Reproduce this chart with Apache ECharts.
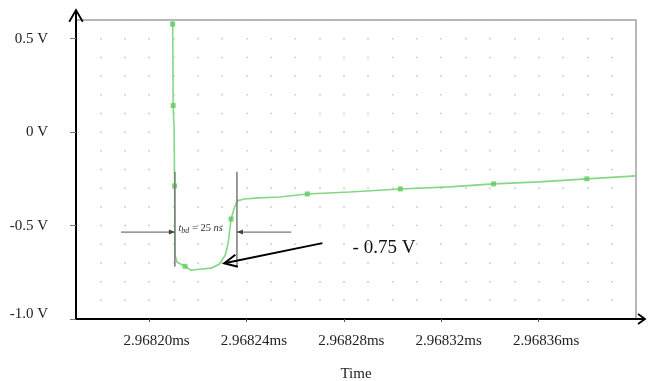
<!DOCTYPE html>
<html><head><meta charset="utf-8">
<script src="https://cdn.jsdelivr.net/npm/echarts@6/dist/echarts.min.js"></script>
<style>html,body{margin:0;padding:0;background:#fff}#c{width:651px;height:381px}</style>
</head><body><div id="c"></div>
<script>
// ---- data ----
const timeMs = [2.9682095, 2.9682097, 2.9682098, 2.9682099, 2.9682103, 2.9682105, 2.9682107, 2.9682115,
  2.9682148, 2.9682173, 2.9682206, 2.9682255, 2.9682288, 2.9682313, 2.9682325, 2.9682337, 2.9682350,
  2.9682362, 2.9682391, 2.9682452, 2.9682535, 2.9682650, 2.9682823, 2.9683032, 2.9683234, 2.9683415,
  2.9683604, 2.9683798, 2.9684000];
const voltage = [0.62, 0.578, 0.39, 0.142, 0.013, -0.288, -0.659, -0.696, -0.718, -0.739, -0.734, -0.728,
  -0.707, -0.659, -0.594, -0.465, -0.406, -0.368, -0.358, -0.352, -0.347, -0.331, -0.320, -0.304, -0.293,
  -0.277, -0.266, -0.250, -0.234];
const markerIndex = [1, 3, 5, 8, 15, 21, 23, 25, 27];
const xTickValues = [2.96820, 2.96824, 2.96828, 2.96832, 2.96836];
const yTickValues = [0.5, 0, -0.5, -1.0];
const yTickLabels = ['0.5 V', '0 V', '-0.5 V', '-1.0 V'];
const xRange = [2.96817, 2.96840];
const yRange = [-1.0, 0.6];
const xDotStep = 0.00001;
const xAxisName = 'Time';

// annotations (data coordinates)
const tbdStart = 2.9682106, tbdEnd = 2.9682361;
const tbdLineSpan = [-0.212, -0.72];
const tbdArrowV = -0.535;
const tbdArrowLeftFrom = 2.9681885, tbdArrowRightFrom = 2.9682584;
const tbdLabelAt = [2.9682212, -0.513];
const dipArrowFrom = [2.9682712, -0.594], dipArrowTo = [2.9682309, -0.702];
const dipLabel = '- 0.75 V', dipLabelAt = [2.9682965, -0.62];

const SERIF = '"Liberation Serif","Times New Roman",serif';
const chart = echarts.init(document.getElementById('c'), null, {renderer: 'canvas'});

const lineData = timeMs.map((t, i) => [t, voltage[i]]);
const markerData = markerIndex.map(i => [timeMs[i], voltage[i]]);

chart.setOption({
  animation: false,
  backgroundColor: '#fff',
  grid: {left: 76, right: 15, top: 20, bottom: 62, containLabel: false, outerBoundsMode: 'none',
    show: true, borderColor: '#a0a0a0', borderWidth: 1.5},
  xAxis: [{
    type: 'value', min: xRange[0], max: xRange[1], position: 'bottom',
    name: xAxisName, nameLocation: 'middle', nameGap: 48,
    nameTextStyle: {fontFamily: SERIF, fontSize: 15, color: '#222'},
    axisLine: {show: true, onZero: false, lineStyle: {color: '#000', width: 2}},
    axisTick: {show: true, customValues: xTickValues, length: 3, lineStyle: {color: '#555', width: 1}},
    axisLabel: {customValues: xTickValues, margin: 15, padding: [0, 0, 0, 15], fontFamily: SERIF, fontSize: 15, color: '#222',
      formatter: v => v.toFixed(5) + 'ms'},
    splitLine: {show: false}
  }, {
    type: 'value', min: xRange[0], max: xRange[1], interval: xDotStep, position: 'top',
    axisLine: {show: false, onZero: false}, axisTick: {show: false}, axisLabel: {show: false},
    splitLine: {show: true, lineStyle: {color: '#c2c2c2', width: 1.5, type: [1.5, 17.1875], dashOffset: 0.75}}
  }],
  yAxis: [{
    type: 'value', min: yRange[0], max: yRange[1],
    axisLine: {show: true, onZero: false, lineStyle: {color: '#000', width: 2}},
    axisTick: {show: true, customValues: yTickValues, length: 6, lineStyle: {color: '#777', width: 1}},
    axisLabel: {customValues: yTickValues, margin: 28, fontFamily: SERIF, fontSize: 15, color: '#222',
      formatter: v => {
        const i = yTickValues.findIndex(t => Math.abs(t - v) < 1e-9);
        const s = i >= 0 ? yTickLabels[i] : '';
        return i === yTickValues.length - 1 ? '{lo|' + s + '}' : s;
      },
      rich: {lo: {fontFamily: SERIF, fontSize: 15, color: '#222', padding: [0, 0, 10, 0]}}
    },
    splitLine: {show: false}
  }],
  series: [{
    type: 'scatter', xAxisIndex: 1, data: [], silent: true
  }, {
    type: 'line', xAxisIndex: 0, yAxisIndex: 0, data: lineData, showSymbol: false, z: 3,
    lineStyle: {color: '#84d884', width: 1.6}, itemStyle: {color: '#84d884'}, silent: true, clip: true
  }, {
    type: 'scatter', xAxisIndex: 0, yAxisIndex: 0, data: markerData, symbol: 'rect', symbolSize: 5, z: 4,
    itemStyle: {color: '#62c862'}, silent: true
  }]
});

// ---- annotations, placed through the chart's own scales ----
function px(p) { return chart.convertToPixel({seriesIndex: 1}, p); }
function chevron(tip, back, L, deg) {
  const len = Math.hypot(back[0], back[1]);
  const d = [back[0] / len, back[1] / len];
  const a = deg * Math.PI / 180;
  const r = s => [d[0] * Math.cos(s) - d[1] * Math.sin(s), d[0] * Math.sin(s) + d[1] * Math.cos(s)];
  const u = r(a), w = r(-a);
  return [[tip[0] + L * u[0], tip[1] + L * u[1]], tip, [tip[0] + L * w[0], tip[1] + L * w[1]]];
}
function headTri(tip, back, L, hw) {
  const len = Math.hypot(back[0], back[1]);
  const d = [back[0] / len, back[1] / len];
  const n = [-d[1], d[0]];
  const b = [tip[0] + d[0] * L, tip[1] + d[1] * L];
  return [tip, [b[0] + n[0] * hw, b[1] + n[1] * hw], [b[0] - n[0] * hw, b[1] - n[1] * hw]];
}
const g = [];
const Z = 50;
// axis arrows
const topLeft = px([xRange[0], yRange[1]]);
const botRight = px([xRange[1], yRange[0]]);
const botLeft = px([xRange[0], yRange[0]]);
const yTip = [topLeft[0], topLeft[1] - 10];
g.push({type: 'line', z: Z, shape: {x1: topLeft[0], y1: topLeft[1] + 1, x2: yTip[0], y2: yTip[1]}, style: {stroke: '#000', lineWidth: 2}});
g.push({type: 'polyline', z: Z, shape: {points: chevron(yTip, [0, 1], 13.5, 30)}, style: {stroke: '#000', lineWidth: 1.8, fill: null}});
const xTip = [botRight[0] + 9, botLeft[1]];
g.push({type: 'line', z: Z, shape: {x1: botRight[0] - 1, y1: botLeft[1], x2: xTip[0], y2: xTip[1]}, style: {stroke: '#000', lineWidth: 2}});
g.push({type: 'polyline', z: Z, shape: {points: chevron(xTip, [-1, 0], 8.6, 36)}, style: {stroke: '#000', lineWidth: 1.8, fill: null}});
// t_bd marker lines
[tbdStart, tbdEnd].forEach(t => {
  const a = px([t, tbdLineSpan[0]]), b = px([t, tbdLineSpan[1]]);
  g.push({type: 'line', z: Z, shape: {x1: a[0], y1: a[1], x2: b[0], y2: b[1]}, style: {stroke: '#7a7a7a', lineWidth: 1.5}});
});
[[tbdArrowLeftFrom, tbdStart], [tbdArrowRightFrom, tbdEnd]].forEach(([f, t]) => {
  const a = px([f, tbdArrowV]), b = px([t, tbdArrowV]);
  g.push({type: 'line', z: Z, shape: {x1: a[0], y1: a[1], x2: b[0], y2: b[1]}, style: {stroke: '#555', lineWidth: 1}});
  g.push({type: 'polygon', z: Z, shape: {points: headTri(b, [a[0] - b[0], a[1] - b[1]], 6, 2.5)}, style: {fill: '#444'}});
});
const tl = px(tbdLabelAt);
g.push({type: 'text', z: Z, x: tl[0], y: tl[1], style: {
  text: '{i|t}{s|bd}{n| = 25 }{i|ns}', align: 'center', verticalAlign: 'middle',
  rich: {
    i: {fontFamily: SERIF, fontStyle: 'italic', fontSize: 10.5, fill: '#333'},
    s: {fontFamily: SERIF, fontStyle: 'italic', fontSize: 8, fill: '#333', padding: [5, 0, 0, 0]},
    n: {fontFamily: SERIF, fontSize: 10.5, fill: '#333'}
  }}});
// dip arrow
const af = px(dipArrowFrom), at = px(dipArrowTo);
g.push({type: 'line', z: Z, shape: {x1: af[0], y1: af[1], x2: at[0], y2: at[1]}, style: {stroke: '#000', lineWidth: 2}});
g.push({type: 'polyline', z: Z, shape: {points: chevron(at, [af[0] - at[0], af[1] - at[1]], 14, 26)}, style: {stroke: '#000', lineWidth: 2, fill: null, lineJoin: 'miter'}});
const dl = px(dipLabelAt);
g.push({type: 'text', z: Z, x: dl[0], y: dl[1], style: {text: dipLabel, align: 'center', verticalAlign: 'middle',
  fontFamily: SERIF, fontSize: 19, fill: '#111'}});

chart.setOption({graphic: g});
</script>
</body></html>
